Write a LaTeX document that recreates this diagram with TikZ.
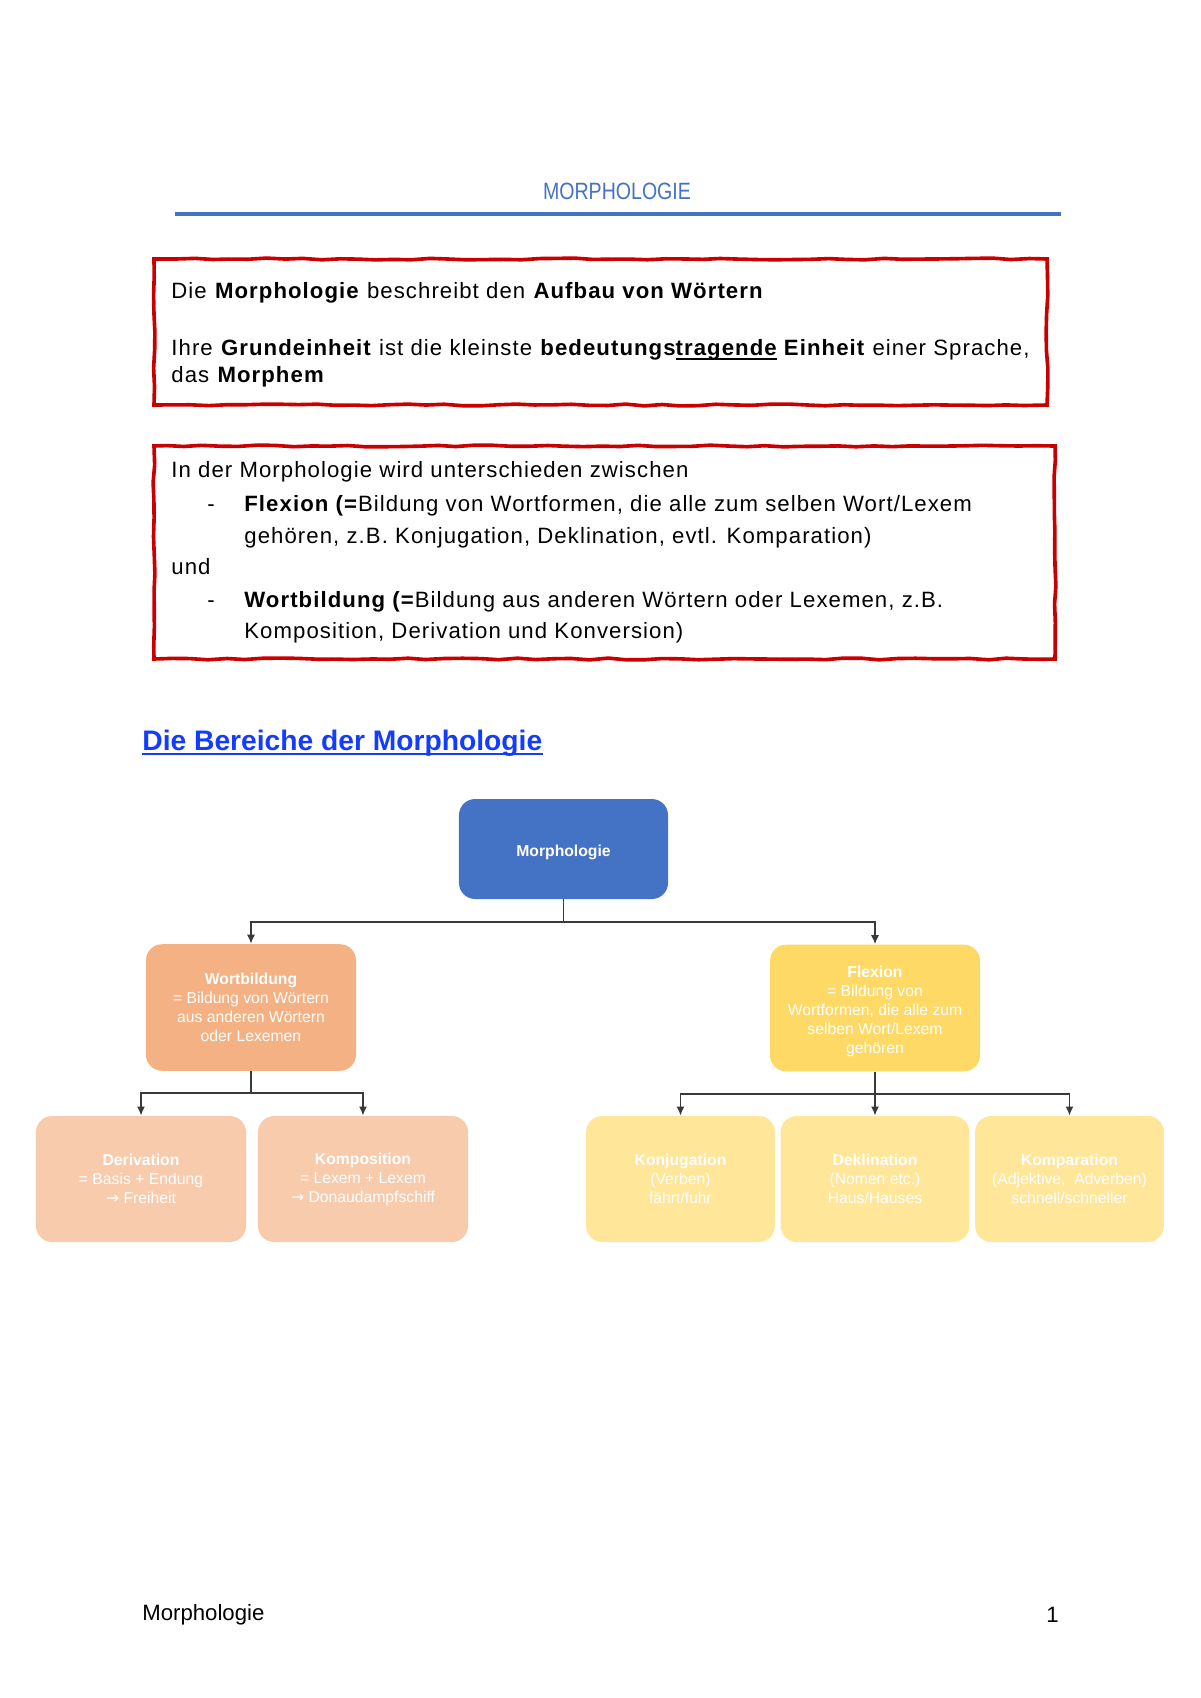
\documentclass[tikz,border=0pt]{standalone}
\usepackage{fontspec}
\setmainfont{Liberation Sans}
\newfontfamily\bodyfont{Liberation Sans}[LetterSpace=4.8]
\newfontfamily\symfont{DejaVu Sans}
\usetikzlibrary{arrows.meta,decorations.pathmorphing}
\definecolor{dred}{HTML}{C80000}
\definecolor{mblue}{HTML}{4472C4}
\definecolor{hblue}{RGB}{20,60,255}
\definecolor{wfill}{HTML}{F4B183}
\definecolor{wlight}{HTML}{F8CBAD}
\definecolor{ffill}{HTML}{FFD966}
\definecolor{flight}{HTML}{FFE699}
\definecolor{cgray}{HTML}{3A3A3A}
\newcommand\thickul[1]{\setbox0\hbox{#1}\rlap{\rule[-2.6pt]{\wd0}{1.2pt}}\box0}
\newcommand\topstrut{\rule{0pt}{8.7pt}}
\begin{document}
\pgfmathsetseed{7}
\begin{tikzpicture}[x=0.4961pt,y=-0.4961pt,
  redbox/.style={draw=dred, line width=1.8pt, decorate,
    decoration={random steps, segment length=9pt, amplitude=0.45pt}},
  body/.style={anchor=base west, inner sep=0pt, font=\bodyfont\fontsize{11}{13}\selectfont},
  box/.style={rounded corners=8pt, inner sep=0pt, align=center, text=white,
    font=\fontsize{7.8}{9.4}\selectfont},
  wide/.style={minimum width=104.2pt, minimum height=62.8pt},
  narrow/.style={minimum width=93.6pt, minimum height=62.5pt},
  conn/.style={draw=cgray, line width=0.8pt},
  arr/.style={-{Latex[length=4.5pt,width=4pt]}}]
\fill[white] (0,0) rectangle (1200,1698);
\useasboundingbox (0,0) rectangle (1200,1698);

% title
\node[inner sep=0pt, text=mblue, font=\fontsize{11.7}{12}\selectfont] (title) at (617,191)
  {\scalebox{0.83}[1]{MORPHOLOGIE}};
\draw[mblue, line width=2pt] (175,214) coordinate (tl) -- (1061,214) coordinate (tr);

% box 1
\draw[redbox] (154,259) rectangle (1047,405);
\node[body] (t1) at (171,298) {Die \textbf{Morphologie} beschreibt den \textbf{Aufbau von Wörtern}};
\node[body] (t2) at (171,355) {Ihre \textbf{Grundeinheit} ist die kleinste \textbf{bedeutungs\thickul{tragende}} \textbf{Einheit} einer Sprache,};
\node[body] (t3) at (171,382) {das \textbf{Morphem}};

% box 2
\draw[redbox] (154,446) rectangle (1055,659);
\node[body] (u1) at (171,477) {In der Morphologie wird unterschieden zwischen};
\node[body] (d1) at (207,511) {-};
\node[body] (u2) at (244,511) {\textbf{Flexion (=}Bildung von Wortformen, die alle zum selben Wort/Lexem};
\node[body] (u3) at (244,543) {gehören, z.B. Konjugation, Deklination, evtl. Komparation)};
\node[body] (u4) at (171,574) {und};
\node[body] (d2) at (207,607) {-};
\node[body] (u5) at (244,607) {\textbf{Wortbildung (=}Bildung aus anderen Wörtern oder Lexemen, z.B.};
\node[body] (u6) at (244,638) {Komposition, Derivation und Konversion)};

% heading
\node[anchor=base west, inner sep=0pt, text=hblue, font=\fontsize{14}{16}\bfseries] (head) at (142,750)
  {Die Bereiche der Morphologie};
\draw[hblue, line width=1.3pt] ([yshift=1.2pt]head.south west) -- ([yshift=1.2pt]head.south east);

% diagram
\node[box, fill=mblue, minimum width=103.7pt, minimum height=49.6pt] (morph) at (563.5,849) {\topstrut\textbf{Morphologie}};
\node[box, wide, fill=wfill] (wort) at (251,1007.5)
  {\textbf{Wortbildung}\\= Bildung von Wörtern\\aus anderen Wörtern\\oder Lexemen};
\node[box, wide, fill=ffill] (flex) at (875,1008)
  {\topstrut\textbf{Flexion}\\= Bildung von\\Wortformen, die alle zum\\selben Wort/Lexem\\gehören};
\node[box, wide, fill=wlight, minimum height=62.5pt] (deri) at (141,1179)
  {\textbf{Derivation}\\= Basis + Endung\\{\symfont →} Freiheit};
\node[box, wide, fill=wlight, minimum height=62.5pt] (komp) at (363,1179)
  {\textbf{Komposition}\\= Lexem + Lexem\\{\symfont →} Donaudampfschiff};
\node[box, narrow, fill=flight] (konj) at (680.5,1179)
  {\textbf{Konjugation}\\(Verben)\\fährt/fuhr};
\node[box, narrow, fill=flight] (dekl) at (875,1179)
  {\textbf{Deklination}\\(Nomen etc.)\\Haus/Hauses};
\node[box, narrow, fill=flight] (kmpa) at (1069.5,1179)
  {\textbf{Komparation}\\(Adjektive,\ \ Adverben)\\schnell/schneller};

\coordinate (bus1) at (0,922);
\coordinate (bus2) at (0,1093);
\coordinate (bus3) at (0,1094);
\draw[conn,arr] (morph.south) -- (morph.south |- bus1) -| (wort.north);
\draw[conn,arr] (morph.south) -- (morph.south |- bus1) -| (flex.north);
\draw[conn,arr] (wort.south) -- (wort.south |- bus2) -| (deri.north);
\draw[conn,arr] (wort.south) -- (wort.south |- bus2) -| (komp.north);
\draw[conn,arr] (flex.south) -- (flex.south |- bus3) -| (konj.north);
\draw[conn,arr] (flex.south) -- (dekl.north);
\draw[conn,arr] (flex.south) -- (flex.south |- bus3) -| (kmpa.north);

% footer
\node[anchor=base west, inner sep=0pt, font=\fontsize{11}{13}\selectfont] (foot) at (142,1620) {Morphologie};
\node[anchor=base west, inner sep=0pt, font=\fontsize{11}{13}\selectfont] (page) at (1046,1622) {1};
\end{tikzpicture}
\end{document}
